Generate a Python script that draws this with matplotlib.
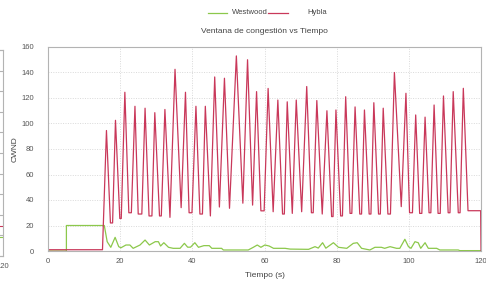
import matplotlib
matplotlib.use("Agg")
import matplotlib.pyplot as plt
from matplotlib.lines import Line2D

plt.rcParams['font.family'] = ['Liberation Sans', 'DejaVu Sans']

title = "Ventana de congestión vs Tiempo"
xlabel = "Tiempo (s)"
ylabel = "CWND"
series_names = ["Westwood", "Hybla"]
xticks = [0, 20, 40, 60, 80, 100, 120]
yticks = [0, 20, 40, 60, 80, 100, 120, 140, 160]

hybla_t = [0, 15.1, 16.2, 17.3, 17.9, 18.7, 19.9, 20.3, 21.3, 22.4, 23.1, 24.1, 25.0, 26.0,
           26.9, 28.0, 28.8, 29.6, 30.9, 31.4, 32.4, 33.8, 35.2, 36.9, 38.1, 39.1, 39.9,
           41.0, 42.1, 42.8, 43.6, 45.0, 46.2, 47.5, 48.9, 50.3, 52.2, 54.0, 55.3, 56.7,
           57.8, 59.0, 59.9, 61.0, 62.4, 63.7, 65.0, 65.5, 66.3, 67.7, 68.8, 70.3, 71.7,
           73.0, 73.5, 74.5, 76.0, 77.3, 78.6, 79.0, 79.8, 81.1, 81.6, 82.5, 83.7, 84.2,
           85.1, 86.4, 86.9, 87.7, 89.0, 89.5, 90.3, 91.6, 92.1, 92.9, 94.2, 94.9, 96.0,
           97.9, 99.2, 100.2, 101.0, 101.9, 103.0, 103.6, 104.5, 105.6, 106.1, 107.0,
           108.1, 108.7, 109.6, 110.9, 111.4, 112.3, 113.7, 114.2, 115.1, 116.4, 119.9, 120.0]
hybla_cwnd = [1, 1, 94.5, 22, 22, 102.5, 25.5, 25.5, 124.5, 30, 30, 113.5, 29, 29,
              112, 27.5, 27.5, 108.5, 27.5, 27.5, 111, 26.4, 142.5, 34, 124.5, 30, 30,
              113.5, 29, 29, 113.5, 27.5, 136.5, 34.5, 135.5, 33.5, 153, 37.5, 150, 36,
              125, 31.5, 31.5, 127.5, 30.8, 118.4, 29, 29, 117, 29.5, 118.4, 30.8, 129,
              30, 30, 118, 29, 110, 27, 27, 110.6, 27.5, 27.5, 121, 29.5, 29.5,
              113, 29, 29, 110.6, 29, 29, 116.3, 29, 29, 112, 29, 29, 140,
              34.8, 123.7, 30, 30, 106.7, 29.5, 29.5, 105, 30, 30, 114.5,
              29.5, 29.5, 121.6, 30, 30, 125, 30, 30, 127.6, 31.6, 31.6, 0]

westwood_t = [0, 5.1, 5.1, 15.6, 16.4, 17.4, 18.6, 19.6, 20.2, 21.6, 22.7, 23.6, 25.5,
              26.9, 28.1, 29.7, 30.6, 31.2, 32.1, 33.4, 34.7, 36.6, 37.8, 38.7, 39.5,
              40.7, 41.7, 43.2, 44.7, 45.4, 48.1, 48.6, 55.5, 56.9, 58.0, 59.0, 60.1,
              61.3, 62.5, 65.7, 67.1, 72.2, 74.0, 74.9, 76.1, 77.0, 79.1, 80.5, 82.8,
              84.6, 85.7, 86.9, 89.2, 90.6, 92.4, 93.3, 94.8, 96.6, 97.5, 98.9, 99.9,
              100.6, 101.7, 102.6, 103.3, 104.5, 105.4, 107.7, 108.6, 113.7, 114.1, 120.0]
westwood_cwnd = [0, 0, 20, 20, 7.3, 2.9, 10.7, 3.4, 2.5, 4.7, 4.7, 2.1, 4.7,
                 8.6, 4.7, 7.3, 7.3, 3.9, 6.5, 2.9, 2.1, 2.1, 6.0, 3.0, 3.0,
                 6.5, 2.9, 4.2, 4.2, 2.1, 2.1, 0.8, 0.8, 2.9, 4.7, 2.9, 4.7,
                 3.9, 2.1, 2.1, 1.5, 1.3, 3.4, 2.3, 6.5, 2.2, 6.5, 2.9, 2.1,
                 6.0, 6.5, 2.1, 0.8, 2.9, 2.9, 2.1, 3.4, 2.1, 2.1, 9.2, 3.4,
                 2.1, 7.3, 6.5, 2.1, 6.5, 2.1, 2.1, 0.8, 0.8, 0.3, 0.3]

# neighbouring (cropped) chart on the left edge
left_t = [100, 120]
left_westwood = [0.9, 0.9]
left_hybla = [1.45, 1.45]

green = '#8cc84b'
red = '#c9385a'
grid_c = '#d9d9d9'
spine_c = '#b3b3b3'
text_c = '#555555'

W, H = 486, 283
fig = plt.figure(figsize=(W / 100, H / 100), dpi=100)

def px_axes(x0, y0, x1, y1):
    return fig.add_axes([x0 / W, 1 - y1 / H, (x1 - x0) / W, (y1 - y0) / H])

# cropped left neighbour
ax0 = px_axes(-420, 50, 3, 256)
ax0.plot(left_t, left_westwood, color=green, lw=0.8)
ax0.plot(left_t, left_hybla, color=red, lw=0.8)
ax0.set_xlim(0, 120)
ax0.set_ylim(0, 10)
ax0.set_xticks([120])
ax0.set_xticklabels(['120'])
ax0.set_yticks(range(0, 11))
ax0.yaxis.tick_right()
ax0.tick_params(axis='y', direction='in', length=3, color=spine_c, labelright=False)
ax0.tick_params(axis='x', length=0, labelsize=5.5, labelcolor=text_c, pad=5)
for s in ax0.spines.values():
    s.set_color(spine_c)
    s.set_linewidth(0.8)

# main chart
ax = px_axes(48, 47, 481, 251)
ax.plot(westwood_t, westwood_cwnd, color=green, lw=0.9, label=series_names[0])
ax.plot(hybla_t, hybla_cwnd, color=red, lw=0.9, label=series_names[1])
ax.set_xlim(0, 120)
ax.set_ylim(0, 160)
ax.set_xticks(xticks)
ax.set_yticks(yticks)
ax.grid(True, color=grid_c, linestyle=(0, (1, 1.5)), linewidth=0.7)
ax.tick_params(length=0, labelsize=5.5, labelcolor=text_c)
ax.tick_params(axis='y', pad=10)
ax.tick_params(axis='x', pad=5)
for s in ax.spines.values():
    s.set_color(spine_c)
    s.set_linewidth(0.8)
ax.set_title(title, fontsize=6, color='#444444', pad=10)
ax.set_xlabel(xlabel, fontsize=6, color='#444444', labelpad=5)
ax.set_ylabel(ylabel, fontsize=6, color='#444444')
ax.yaxis.set_label_coords((19 - 48) / 433, 0.5)

# legend (top centre)
fig.add_artist(Line2D([208 / W, 227 / W], [1 - 13 / H, 1 - 13 / H], color=green, lw=0.9))
fig.text(232 / W, 1 - 13 / H, series_names[0], fontsize=5.5, color='#444444', va='center', ha='left')
fig.add_artist(Line2D([268 / W, 288 / W], [1 - 13 / H, 1 - 13 / H], color=red, lw=0.9))
fig.text(307 / W, 1 - 13 / H, series_names[1], fontsize=5.5, color='#444444', va='center', ha='left')

fig.savefig('out.png', dpi=100)
